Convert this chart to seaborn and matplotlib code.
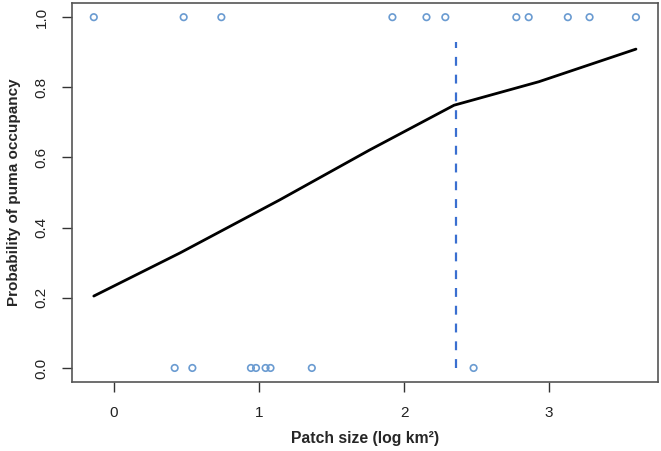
import matplotlib
matplotlib.use("Agg")
import matplotlib.pyplot as plt
import seaborn as sns
import pandas as pd

# observed data: patch size (log km2) and occupancy (0/1)
present_x = [-0.14, 0.48, 0.74, 1.92, 2.155, 2.285, 2.775, 2.86, 3.13, 3.28, 3.60]
absent_x = [0.418, 0.54, 0.944, 0.979, 1.045, 1.079, 1.364, 2.48]

# fitted probability curve
curve_x = [-0.14, 0.455, 1.142, 1.761, 2.345, 2.93, 3.60]
curve_y = [0.205, 0.328, 0.479, 0.621, 0.749, 0.816, 0.909]

breakpoint_x = 2.358
breakpoint_top = 0.93

x_ticks = [0, 1, 2, 3]
y_ticks = [0.0, 0.2, 0.4, 0.6, 0.8, 1.0]
y_ticklabels = ["0.0", "0.2", "0.4", "0.6", "0.8", "1.0"]

sns.set_style("ticks")
plt.rcParams["font.family"] = ["Liberation Sans", "DejaVu Sans"]

points = pd.DataFrame({
    "x": present_x + absent_x,
    "y": [1.0] * len(present_x) + [0.0] * len(absent_x),
})
curve = pd.DataFrame({"x": curve_x, "y": curve_y})

fig = plt.figure(figsize=(6.61, 4.51), dpi=100)
ax = fig.add_axes([0.109, 0.153, 0.886, 0.840])

sns.scatterplot(data=points, x="x", y="y", ax=ax, marker="o", s=22,
                facecolors="none", edgecolor="#6a9bd1", linewidth=1.2, zorder=3)
sns.lineplot(data=curve, x="x", y="y", ax=ax, color="black", linewidth=2.0,
             estimator=None, sort=True, zorder=2)
ax.plot([breakpoint_x, breakpoint_x], [0.0, breakpoint_top], color="#3a6fd0",
        linestyle=(0, (4, 4)), linewidth=1.6, zorder=1)

ax.set_xlim(-0.29, 3.75)
ax.set_ylim(-0.04, 1.04)
ax.set_xticks(x_ticks)
ax.set_xticklabels([str(t) for t in x_ticks], fontsize=11, color="#222222")
ax.set_yticks(y_ticks)
ax.set_yticklabels(y_ticklabels, fontsize=11, color="#222222", rotation=90, va="center")
ax.tick_params(axis="both", direction="out", length=7, width=1.0, color="#333333", pad=10)

for side in ["left", "right", "top", "bottom"]:
    ax.spines[side].set_visible(True)
    ax.spines[side].set_color("#555555")
    ax.spines[side].set_linewidth(1.2)

ax.set_xlabel("Patch size (log km²)", fontsize=11.3, fontweight="bold", labelpad=8)
ax.set_ylabel("Probability of puma occupancy", fontsize=11, fontweight="bold", labelpad=10)

fig.savefig("out.png", dpi=100)
